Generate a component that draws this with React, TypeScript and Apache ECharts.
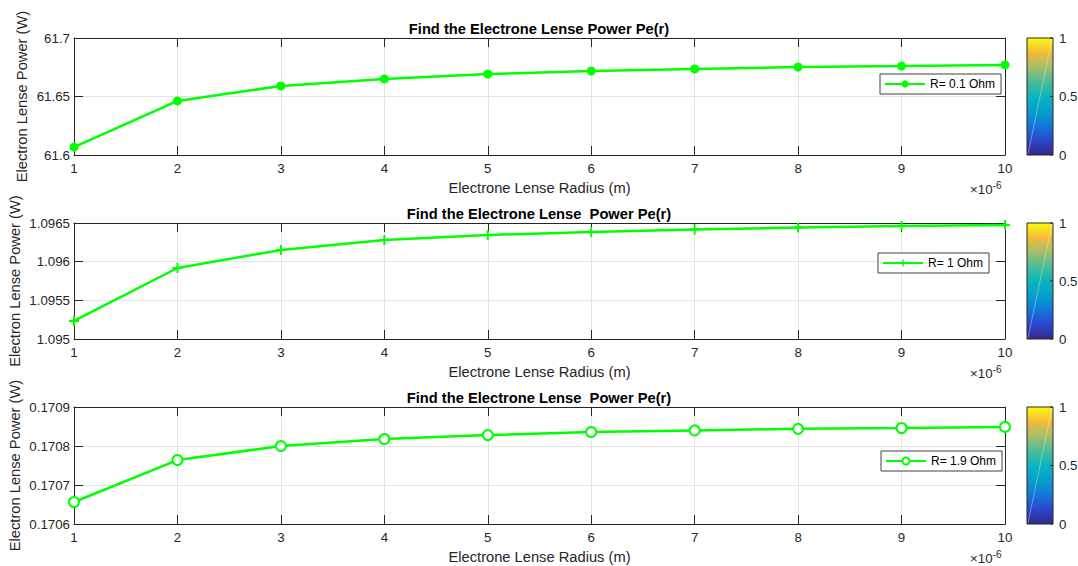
import React, { useEffect, useRef } from "react";
import * as echarts from "echarts";

// Electron lens radius, in units of 1e-6 m
const radius = [1, 2, 3, 4, 5, 6, 7, 8, 9, 10];
// Power (W) for each resistance
const powerR01 = [61.6068, 61.6462, 61.659, 61.665, 61.6692, 61.6718, 61.6735, 61.6752, 61.676, 61.677];
const powerR1 = [1.095233, 1.095918, 1.096151, 1.09628, 1.096345, 1.096384, 1.096416, 1.096442, 1.09646, 1.096474];
const powerR19 = [0.1706564, 0.170764, 0.1708, 0.170818, 0.170828, 0.170836, 0.17084, 0.170844, 0.170846, 0.170849];

const seriesNames = ["R= 0.1 Ohm", "R= 1 Ohm", "R= 1.9 Ohm"];
const titles = [
  "Find the Electrone Lense Power Pe(r)",
  "Find the Electrone Lense  Power Pe(r)",
  "Find the Electrone Lense  Power Pe(r)",
];
const yMins = [61.6, 1.095, 0.1706];
const yMaxs = [61.7, 1.0965, 0.1709];
const yIntervals = [0.05, 0.0005, 0.0001];
const colorbarTicks = [0, 0.5, 1];

const FONT = "'Liberation Sans', Arial, Helvetica, sans-serif";
const INK = "#262626";
const GREEN = "#00ff00";
const PLUS = "path://M4 0H6V4H10V6H6V10H4V6H0V4H4Z";
const TICK_FS = 13.3;
const LABEL_FS = 14.7;

const gridTops = [38, 223, 407];
const gridHeights = [117, 116, 117];
const GL = 74;
const GR = 1005;

export default function App() {
  const ref = useRef<HTMLDivElement>(null);
  useEffect(() => {
    if (!ref.current) return;
    const chart = echarts.init(ref.current, null, { renderer: "svg" });
    const datasets = [powerR01, powerR1, powerR19];
    const symbols = ["circle", PLUS, "emptyCircle"];
    const symbolSizes = [9, 10, 10];
    const legendBoxes = [
      { left: 880, top: 74 },
      { left: 878, top: 253 },
      { left: 881, top: 451 },
    ];

    const grids: any[] = [];
    const xAxes: any[] = [];
    const yAxes: any[] = [];
    const series: any[] = [];
    const legends: any[] = [];
    const titleArr: any[] = [];
    const graphics: any[] = [];

    const fmt = (v: number) => String(parseFloat(v.toFixed(6)));

    for (let i = 0; i < 3; i++) {
      grids.push({
        left: GL,
        width: GR - GL,
        top: gridTops[i],
        height: gridHeights[i],
        show: false,
        containLabel: false,
        outerBoundsMode: "none",
      });
      xAxes.push({
        type: "value",
        gridIndex: i,
        position: "bottom",
        min: 1,
        max: 10,
        interval: 1,
        name: "Electrone Lense Radius (m)",
        nameLocation: "middle",
        nameGap: 25,
        nameMoveOverlap: false,
        nameTextStyle: { fontFamily: FONT, fontSize: LABEL_FS, color: INK },
        axisLine: { show: true, lineStyle: { color: INK, width: 1 } },
        axisTick: { show: true, inside: true, length: 9, lineStyle: { color: INK } },
        axisLabel: { fontFamily: FONT, fontSize: TICK_FS, color: INK, margin: 7 },
        splitLine: { show: true, lineStyle: { color: "#e3e3e3", width: 1 } },
      });
      xAxes.push({
        type: "value",
        gridIndex: i,
        position: "top",
        min: 1,
        max: 10,
        interval: 1,
        axisLine: { show: true, lineStyle: { color: INK, width: 1 } },
        axisTick: { show: true, inside: true, length: 9, lineStyle: { color: INK } },
        axisLabel: { show: false },
        splitLine: { show: false },
      });
      yAxes.push({
        type: "value",
        gridIndex: i,
        position: "left",
        min: yMins[i],
        max: yMaxs[i],
        interval: yIntervals[i],
        name: "Electron Lense Power (W)",
        nameLocation: "middle",
        nameGap: i === 0 ? 45 : 52,
        nameMoveOverlap: false,
        nameTextStyle: { fontFamily: FONT, fontSize: LABEL_FS, color: INK },
        axisLine: { show: true, lineStyle: { color: INK, width: 1 } },
        axisTick: { show: true, inside: true, length: 9, lineStyle: { color: INK } },
        axisLabel: { fontFamily: FONT, fontSize: TICK_FS, color: INK, margin: 4, formatter: fmt },
        splitLine: { show: true, lineStyle: { color: "#e3e3e3", width: 1 } },
      });
      yAxes.push({
        type: "value",
        gridIndex: i,
        position: "right",
        min: yMins[i],
        max: yMaxs[i],
        interval: yIntervals[i],
        axisLine: { show: true, lineStyle: { color: INK, width: 1 } },
        axisTick: { show: true, inside: true, length: 9, lineStyle: { color: INK } },
        axisLabel: { show: false },
        splitLine: { show: false },
      });
      series.push({
        type: "line",
        name: seriesNames[i],
        xAxisIndex: i * 2,
        yAxisIndex: i * 2,
        data: radius.map((r, k) => [r, datasets[i][k]]),
        symbol: symbols[i],
        symbolSize: symbolSizes[i],
        showAllSymbol: true,
        lineStyle: { color: GREEN, width: 2.5 },
        itemStyle: { color: GREEN, borderColor: GREEN, borderWidth: i === 2 ? 2 : 0 },
        z: 5,
      });
      legends.push({
        data: [seriesNames[i]],
        left: legendBoxes[i].left,
        top: legendBoxes[i].top,
        orient: "horizontal",
        backgroundColor: "#ffffff",
        borderColor: "#404040",
        borderWidth: 1,
        borderRadius: 0,
        padding: [4, 6, 4, 4],
        itemWidth: 40,
        itemHeight: 9,
        itemGap: 4,
        textStyle: { fontFamily: FONT, fontSize: 12, color: "#000" },
        selectedMode: false,
      });
      titleArr.push({
        text: titles[i],
        left: "center",
        top: gridTops[i] - 22,
        textStyle: { fontFamily: FONT, fontSize: LABEL_FS, fontWeight: "bold", color: "#000" },
      });

      // exponent label
      graphics.push({
        type: "text",
        left: 970,
        top: gridTops[i] + gridHeights[i] + 25,
        style: {
          text: "{b|×10}{s|-6}",
          rich: {
            b: { fontFamily: FONT, fontSize: TICK_FS, fill: INK },
            s: { fontFamily: FONT, fontSize: 10, fill: INK, padding: [0, 0, 9, 0] },
          },
        },
      });

      // colorbar
      const cbX = 1027;
      const cbW = 26;
      const cbTop = gridTops[i];
      const cbH = gridHeights[i];
      graphics.push({
        type: "rect",
        shape: { x: cbX, y: cbTop, width: cbW, height: cbH },
        style: {
          fill: new echarts.graphic.LinearGradient(0, 1, 0, 0, [
            { offset: 0, color: "#352a87" },
            { offset: 0.125, color: "#2a46d0" },
            { offset: 0.25, color: "#1478d8" },
            { offset: 0.375, color: "#069fcb" },
            { offset: 0.5, color: "#0bb5bd" },
            { offset: 0.625, color: "#4bbc95" },
            { offset: 0.75, color: "#a6be6a" },
            { offset: 0.875, color: "#f4b93a" },
            { offset: 1, color: "#f9fb0e" },
          ]),
          stroke: INK,
          lineWidth: 1,
        },
      });
      graphics.push({
        type: "line",
        shape: { x1: cbX + 1, y1: cbTop + cbH - 1, x2: cbX + cbW - 1, y2: cbTop + 1 },
        style: { stroke: "rgba(255,255,255,0.35)", lineWidth: 1 },
      });
      colorbarTicks.forEach((t) => {
        const y = cbTop + cbH - t * cbH;
        graphics.push({
          type: "line",
          shape: { x1: cbX + cbW - 3, y1: y, x2: cbX + cbW, y2: y },
          style: { stroke: INK, lineWidth: 1 },
        });
        graphics.push({
          type: "text",
          x: cbX + cbW + 6,
          y: y,
          style: {
            text: String(t),
            fontFamily: FONT,
            fontSize: TICK_FS,
            fill: INK,
            verticalAlign: "middle",
            align: "left",
          },
        });
      });
    }

    chart.setOption({
      animation: false,
      backgroundColor: "#ffffff",
      title: titleArr,
      grid: grids,
      xAxis: xAxes,
      yAxis: yAxes,
      legend: legends,
      series,
      graphic: graphics,
    });
    return () => chart.dispose();
  }, []);
  return (
    <div
      ref={ref}
      style={{ position: "fixed", left: 0, top: 0, width: 1078, height: 566 }}
    />
  );
}
